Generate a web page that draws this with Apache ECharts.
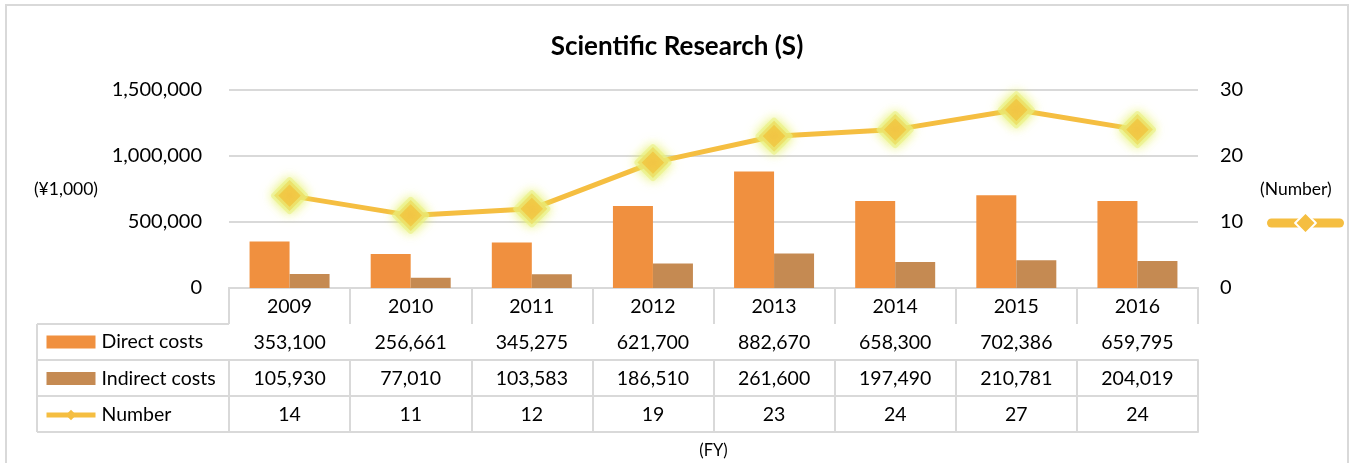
<!DOCTYPE html>
<html>
<head>
<meta charset="utf-8">
<script src="https://cdn.jsdelivr.net/npm/echarts@6/dist/echarts.min.js"></script>
<style>
  html, body { margin: 0; padding: 0; background: #fff; }
  #main { width: 1354px; height: 463px; }
</style>
</head>
<body>
<div id="main"></div>
<script>
// data
var years = ['2009', '2010', '2011', '2012', '2013', '2014', '2015', '2016'];
var directCosts = [353100, 256661, 345275, 621700, 882670, 658300, 702386, 659795];
var indirectCosts = [105930, 77010, 103583, 186510, 261600, 197490, 210781, 204019];
var numbers = [14, 11, 12, 19, 23, 24, 27, 24];
var costTicks = [0, 500000, 1000000, 1500000];
var numberTicks = [0, 10, 20, 30];

var FONT = 'Lato';
var TABLE_FONT = 19.5;
var gridColor = '#D9D9D9';
var rowH = 36;
// 表格左边那一列
var tableLeft = 37, plotLeft = 229, plotTop = 90, plotBottom = 288;

function fmt(v) {
  return Number(v).toLocaleString('en-US');
}

// 表格的几行 (用x轴的offset画)
function tableAxis(idx, arr) {
  return {
    type: 'category',
    data: years,
    gridIndex: 0,
    position: 'bottom',
    offset: rowH * idx,
    axisLine: { show: true, lineStyle: { color: gridColor, width: 2 } },
    axisTick: { show: arr !== null, length: rowH, lineStyle: { color: gridColor, width: 2 } },
    axisLabel: {
      show: arr !== null,
      margin: 9,
      color: '#000',
      fontFamily: FONT,
      fontSize: TABLE_FONT,
      formatter: function (v, i) { return arr ? (idx === 0 ? v : fmt(arr[i])) : ''; }
    },
    splitLine: { show: false }
  };
}

var xAxes = [
  tableAxis(0, years),
  tableAxis(1, directCosts),
  tableAxis(2, indirectCosts),
  tableAxis(3, numbers),
  tableAxis(4, null)
];
xAxes[4].name = '(FY)';
xAxes[4].nameLocation = 'middle';
xAxes[4].nameGap = 10;
xAxes[4].nameTextStyle = { color: '#000', fontFamily: FONT, fontSize: 16.5 };

// 左边表格的线
var leftLines = [];
for (var r = 1; r <= 4; r++) {
  leftLines.push({
    type: 'line',
    shape: { x1: tableLeft, y1: plotBottom + rowH * r, x2: plotLeft, y2: plotBottom + rowH * r },
    style: { stroke: gridColor, lineWidth: 2 }
  });
}
leftLines.push({
  type: 'line',
  shape: { x1: tableLeft, y1: plotBottom + rowH, x2: tableLeft, y2: plotBottom + rowH * 4 },
  style: { stroke: gridColor, lineWidth: 2 }
});

var chart = echarts.init(document.getElementById('main'));
var option = {
  animation: false,
  title: {
    text: 'Scientific Research (S)',
    left: 'center',
    top: 29,
    textStyle: { fontFamily: FONT, fontSize: 26, fontWeight: 'bold', color: '#000' }
  },
  color: ['#F0903F', '#C58A52', '#F5BE41'],
  legend: [
    {
      orient: 'vertical',
      left: 44,
      top: 332,
      padding: 0,
      itemWidth: 49,
      itemHeight: 13,
      itemGap: 36 - TABLE_FONT,
      selectedMode: false,
      textStyle: { color: '#000', fontFamily: FONT, fontSize: TABLE_FONT, padding: [0, 0, 0, 1] },
      lineStyle: { width: 5 },
      itemStyle: { borderWidth: 0, shadowBlur: 0 },
      data: [
        { name: 'Direct costs', icon: 'rect' },
        { name: 'Indirect costs', icon: 'rect' },
        { name: 'Number' }
      ]
    },
    {
      // 右边 (Number) 下面那个小图标
      left: 1267,
      top: 210,
      padding: 0,
      itemWidth: 68,
      itemHeight: 26,
      selectedMode: false,
      formatter: function () { return ''; },
      lineStyle: { width: 9, cap: 'round' },
      itemStyle: { borderColor: '#fff', borderWidth: 2, shadowBlur: 0 },
      data: ['Number']
    }
  ],
  grid: {
    left: plotLeft,
    right: 1354 - 1198,
    top: plotTop,
    height: plotBottom - plotTop
  },
  xAxis: xAxes,
  yAxis: [
    {
      type: 'value',
      min: costTicks[0],
      max: costTicks[costTicks.length - 1],
      interval: costTicks[1] - costTicks[0],
      name: '(¥1,000)',
      nameLocation: 'middle',
      nameRotate: 0,
      nameGap: 131,
      nameTextStyle: { color: '#000', fontFamily: FONT, fontSize: 17.5, padding: [6, 0, 0, 0] },
      axisLine: { show: false },
      axisTick: { show: false },
      axisLabel: { margin: 27, color: '#000', fontFamily: FONT, fontSize: 20, formatter: fmt },
      splitLine: { lineStyle: { color: gridColor, width: 2 } }
    },
    {
      type: 'value',
      min: numberTicks[0],
      max: numberTicks[numberTicks.length - 1],
      interval: numberTicks[1] - numberTicks[0],
      name: '(Number)',
      nameLocation: 'middle',
      nameRotate: 0,
      nameGap: 62,
      nameTextStyle: { color: '#000', fontFamily: FONT, fontSize: 17.5, padding: [6, 0, 0, 0] },
      axisLine: { show: false },
      axisTick: { show: false },
      axisLabel: { margin: 22, color: '#000', fontFamily: FONT, fontSize: 20 },
      splitLine: { show: false }
    }
  ],
  series: [
    {
      name: 'Direct costs',
      type: 'bar',
      xAxisIndex: 0,
      yAxisIndex: 0,
      barWidth: 40,
      barGap: 0,
      data: directCosts
    },
    {
      name: 'Indirect costs',
      type: 'bar',
      xAxisIndex: 0,
      yAxisIndex: 0,
      barWidth: 40,
      barGap: 0,
      data: indirectCosts
    },
    {
      name: 'Number',
      type: 'line',
      xAxisIndex: 0,
      yAxisIndex: 1,
      symbol: 'diamond',
      symbolSize: 31,
      z: 5,
      lineStyle: { width: 5, color: '#F5BE41' },
      itemStyle: {
        color: '#F5BE41',
        // 外面一圈黄绿色的光
        borderColor: 'rgba(234, 240, 130, 0.6)',
        borderWidth: 6,
        borderJoin: 'round',
        shadowBlur: 12,
        shadowColor: 'rgba(228, 238, 90, 1)'
      },
      data: numbers
    }
  ],
  graphic: [
    {
      type: 'rect',
      shape: { x: 6, y: 5, width: 1342, height: 480 },
      style: { fill: 'none', stroke: gridColor, lineWidth: 2 },
      silent: true
    }
  ].concat(leftLines)
};
chart.setOption(option);
</script>
</body>
</html>
